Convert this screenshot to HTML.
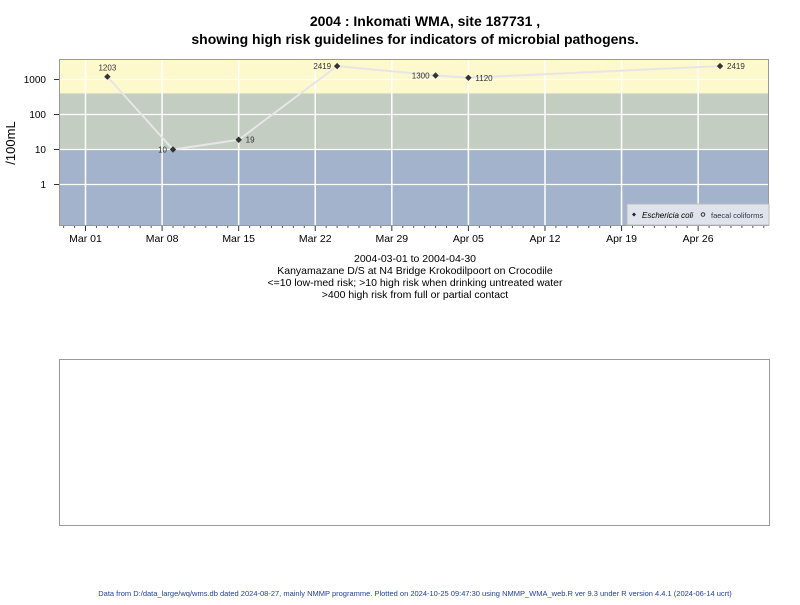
<!DOCTYPE html>
<html><head><meta charset="utf-8"><style>
body{margin:0;background:#fff;width:800px;height:600px;overflow:hidden;font-family:"Liberation Sans",Arial,sans-serif}
</style></head><body>
<svg width="800" height="600" xmlns="http://www.w3.org/2000/svg" font-family="Liberation Sans, Arial, sans-serif">
<text x="425" y="26" text-anchor="middle" font-size="14" font-weight="bold">2004 : Inkomati WMA, site 187731 ,</text>
<text x="415" y="44" text-anchor="middle" font-size="14" font-weight="bold">showing high risk guidelines for indicators of microbial pathogens.</text>
<g id="plot"></g>
<text transform="translate(15,143) rotate(-90)" text-anchor="middle" font-size="13">/100mL</text>
<g font-size="10.5" text-anchor="middle">
<text x="415" y="262">2004-03-01 to 2004-04-30</text>
<text x="415" y="274">Kanyamazane D/S at N4 Bridge Krokodilpoort on Crocodile</text>
<text x="415" y="286">&lt;=10 low-med risk; &gt;10 high risk when drinking untreated water</text>
<text x="415" y="298">&gt;400 high risk from full or partial contact</text>
</g>
<rect x="59.5" y="359.5" width="710" height="166" fill="none" stroke="#999"/>
<text x="415" y="596" text-anchor="middle" font-size="7.5" fill="#2040a0">Data from D:/data_large/wq/wms.db dated 2024-08-27, mainly NMMP programme. Plotted on 2024-10-25 09:47:30 using NMMP_WMA_web.R ver 9.3 under R version 4.4.1 (2024-06-14 ucrt)</text>
</svg>
<script>
const dayOffsets=[2,8,14,23,32,35,58];
const values=[1203,10,19,2419,1300,1120,2419];
const labelSide=['top','left','right','left','left','right','right'];
const yTicks=[1,10,100,1000];
const xTickLabels=['Mar 01','Mar 08','Mar 15','Mar 22','Mar 29','Apr 05','Apr 12','Apr 19','Apr 26'];
const L=59,R=769,T=59,B=226;
const X=d=>85.5+d*10.94;
const Y=v=>184.5-35*Math.log10(v);
const NS='http://www.w3.org/2000/svg';
const g=document.getElementById('plot');
function mk(t,a,p){const e=document.createElementNS(NS,t);for(const k in a)e.setAttribute(k,a[k]);(p||g).appendChild(e);return e;}
let r;
r=mk('rect',{x:L,y:T,width:R-L,height:Y(400)-T,fill:'#fef8cd'});


r=mk('rect',{x:L,y:Y(400),width:R-L,height:Y(10)-Y(400),fill:'#c3cdc1'});


r=mk('rect',{x:L,y:Y(10),width:R-L,height:B-Y(10),fill:'#a2b3cb'});


yTicks.forEach(v=>{
 const l=mk('line',{x1:L,x2:R,y1:Y(v),y2:Y(v),stroke:'#fff','stroke-width':1.2});
 
 
 mk('line',{x1:L-5,x2:L,y1:Y(v),y2:Y(v),stroke:'#333'});
 const t=mk('text',{x:L-13,y:Y(v)+3.5,'text-anchor':'end','font-size':10});
 t.textContent=v;
 
 
});
xTickLabels.forEach((s,i)=>{
 const x=X(i*7);
 const l=mk('line',{x1:x,x2:x,y1:T,y2:B,stroke:'#fff','stroke-width':1.5});
 
 
 mk('line',{x1:x,x2:x,y1:B,y2:B+5,stroke:'#333'});
 const t=mk('text',{x:x,y:B+16,'text-anchor':'middle','font-size':10.5});
 t.textContent=s;
 
 
});
for(let d=-2;d<=62;d++){const x=X(d);if(x>L&&x<R&&d%7)mk('line',{x1:x,x2:x,y1:B,y2:B+2,stroke:'#555'});}
const ln=mk('polyline',{points:dayOffsets.map((d,i)=>X(d)+','+Y(values[i])).join(' '),fill:'none',stroke:'#e6e6e6','stroke-width':2});


dayOffsets.forEach((d,i)=>{
 const x=X(d),y=Y(values[i]);
 const p=mk('path',{d:`M${x},${y-3.2}L${x+3.2},${y}L${x},${y+3.2}L${x-3.2},${y}Z`,fill:'#333'});
 
 
 let tx=x,ty=y+3,a='middle';
 if(labelSide[i]==='top'){ty=y-6;}else if(labelSide[i]==='left'){tx=x-6;a='end';}else{tx=x+7;a='start';}
 const t=mk('text',{x:tx,y:ty,'text-anchor':a,'font-size':8,fill:'#333'});
 t.textContent=values[i];
 
 
});
mk('rect',{x:L+0.5,y:T+0.5,width:R-L-1,height:B-T-1,fill:'none',stroke:'#999'});
const lg=mk('g',{});


mk('rect',{x:627,y:204,width:142,height:21,fill:'#dfe4ec',stroke:'#bbb'},lg);
mk('path',{d:'M634,212.5l2,2l-2,2l-2,-2z',fill:'#222'},lg);
const t1=mk('text',{x:642,y:218,'font-size':8,'font-style':'italic'},lg);t1.textContent='Eschericia coli';


mk('circle',{cx:703,cy:214.5,r:1.8,fill:'none',stroke:'#333'},lg);
const t2=mk('text',{x:711,y:218,'font-size':7.5,fill:'#334'},lg);t2.textContent='faecal coliforms';


</script>
</body></html>
